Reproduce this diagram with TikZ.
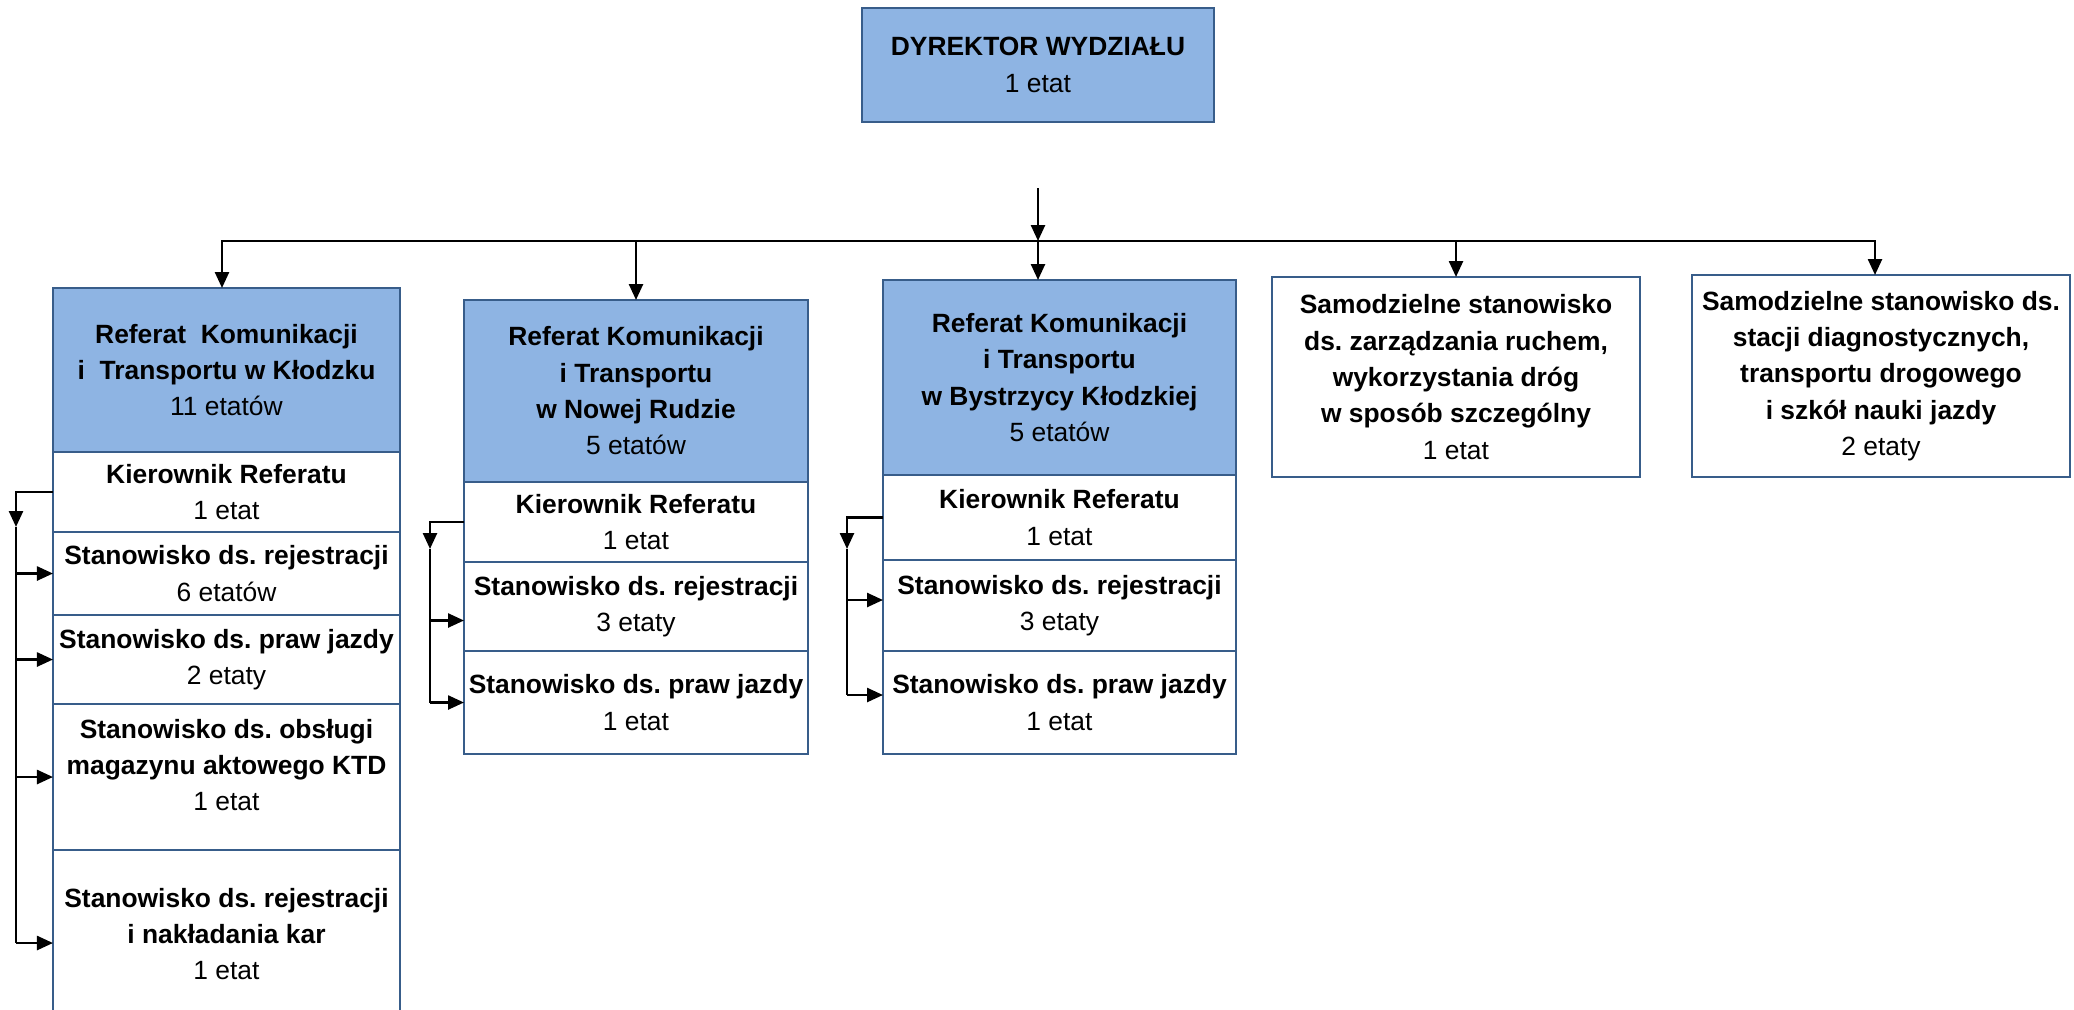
\documentclass[tikz,border=0pt]{standalone}
\usepackage{fontspec}
\setmainfont{Liberation Sans}
\frenchspacing
\usetikzlibrary{positioning,arrows.meta}
\definecolor{boxfill}{RGB}{142,180,227}
\definecolor{boxline}{RGB}{56,93,138}

\begin{document}
\begin{tikzpicture}[x=1bp,y=1bp,>={Triangle[length=16bp,width=14bp]},line width=2.5bp,line join=miter]
	\tikzstyle{every node}=[font=\fontsize{26.5}{36.5}\selectfont]
	\tikzstyle{unit}=[rectangle, draw=boxline, fill=boxfill, line width=2.5bp, align=center, inner sep=0pt, outer sep=0pt]
	\tikzstyle{post}=[unit, fill=white]
	
	\useasboundingbox (0,0) rectangle (2074,-1010);
	
	\node[unit, minimum width=352bp, minimum height=114bp] (dyr) at (1038,-65) {\textbf{DYREKTOR WYDZIAŁU}\\1 etat};
	
	% Kłodzko
	\node[unit, minimum width=347bp, minimum height=164bp] (ref1) at (226.5,-370) {\textbf{Referat~ Komunikacji}\\\textbf{i~ Transportu w Kłodzku}\\11 etatów};
	\node[post, minimum width=347bp, minimum height=80bp, below=0pt of ref1] (kier1) {\textbf{Kierownik Referatu}\\1 etat};
	\node[post, minimum width=347bp, minimum height=83bp, below=0pt of kier1] (rej1) {\textbf{Stanowisko ds. rejestracji}\\6 etatów};
	\node[post, minimum width=347bp, minimum height=89bp, below=0pt of rej1] (praw1) {\textbf{Stanowisko ds. praw jazdy}\\2 etaty};
	\node[post, minimum width=347bp, minimum height=146bp, below=0pt of praw1] (mag1) {};
	\node[align=center] (mag1txt) at ([yshift=12bp]mag1.center) {\textbf{Stanowisko ds. obsługi}\\\textbf{magazynu aktowego KTD}\\1 etat};
	\node[post, minimum width=347bp, minimum height=168bp, below=0pt of mag1] (kar1) {\textbf{Stanowisko ds. rejestracji}\\\textbf{i nakładania kar}\\1 etat};
	
	% Nowa Ruda
	\node[unit, minimum width=344bp, minimum height=182bp] (ref2) at (636,-391) {\textbf{Referat Komunikacji}\\\textbf{i Transportu}\\\textbf{w Nowej Rudzie}\\5 etatów};
	\node[post, minimum width=344bp, minimum height=80bp, below=0pt of ref2] (kier2) {\textbf{Kierownik Referatu}\\1 etat};
	\node[post, minimum width=344bp, minimum height=89bp, below=0pt of kier2] (rej2) {\textbf{Stanowisko ds. rejestracji}\\3 etaty};
	\node[post, minimum width=344bp, minimum height=103bp, below=0pt of rej2] (praw2) {\textbf{Stanowisko ds. praw jazdy}\\1 etat};
	
	% Bystrzyca Kłodzka
	\node[unit, minimum width=353bp, minimum height=195bp] (ref3) at (1059.5,-377.5) {\textbf{Referat Komunikacji}\\\textbf{i Transportu}\\\textbf{w Bystrzycy Kłodzkiej}\\5 etatów};
	\node[post, minimum width=353bp, minimum height=85bp, below=0pt of ref3] (kier3) {\textbf{Kierownik Referatu}\\1 etat};
	\node[post, minimum width=353bp, minimum height=91bp, below=0pt of kier3] (rej3) {\textbf{Stanowisko ds. rejestracji}\\3 etaty};
	\node[post, minimum width=353bp, minimum height=103bp, below=0pt of rej3] (praw3) {\textbf{Stanowisko ds. praw jazdy}\\1 etat};
	
	% samodzielne
	\node[post, minimum width=368bp, minimum height=200bp] (sam1) at (1456,-377) {\textbf{Samodzielne stanowisko}\\\textbf{ds. zarządzania ruchem,}\\\textbf{wykorzystania dróg}\\\textbf{w sposób szczególny}\\1 etat};
	\node[post, minimum width=378bp, minimum height=202bp] (sam2) at (1881,-376) {\textbf{Samodzielne stanowisko ds.}\\\textbf{stacji diagnostycznych,}\\\textbf{transportu drogowego}\\\textbf{i szkół nauki jazdy}\\2 etaty};
	
	% szyna glowna
	\coordinate (start) at ([yshift=-66bp]dyr.south);
	\coordinate (bus) at ([yshift=-119bp]dyr.south);
	\draw[->] (start) -- (bus);
	\draw[->] (bus) -| ([xshift=-4.5bp]ref1.north);
	\draw[->] (bus) -| ([xshift=-6bp]sam2.north);
	\draw[->] (bus -| ref2.north) -- (ref2.north);
	\draw[->] (bus) -- (bus |- ref3.north);
	\draw[->] (bus -| sam1.north) -- (sam1.north);
	
	% Kłodzko - podlegli
	\coordinate (t1) at (16,-527);
	\coordinate (s1in) at ([yshift=-9bp]kar1.west);
	\coordinate (e1) at (t1 |- s1in);
	\draw[->] (kier1.west) -| (t1);
	\draw (t1) -- (e1);
	\draw[->] (t1 |- rej1.west) -- (rej1.west);
	\draw[->] (t1 |- praw1.west) -- (praw1.west);
	\draw[->] (t1 |- mag1.west) -- (mag1.west);
	\draw[->] (e1) -- (s1in);
	
	% Nowa Ruda - podlegli
	\coordinate (t2) at (430,-549);
	\coordinate (r2in) at ([yshift=-14bp]rej2.west);
	\coordinate (e2) at (t2 |- praw2.west);
	\draw[->] (kier2.west) -| (t2);
	\draw (t2) -- (e2);
	\draw[->] (t2 |- r2in) -- (r2in);
	\draw[->] (e2) -- (praw2.west);
	
	% Bystrzyca - podlegli
	\coordinate (t3) at (847,-549);
	\coordinate (r3in) at ([yshift=5.5bp]rej3.west);
	\coordinate (p3in) at ([yshift=7.5bp]praw3.west);
	\coordinate (e3) at (t3 |- p3in);
	\draw[->] (kier3.west) -| (t3);
	\draw (t3) -- (e3);
	\draw[->] (t3 |- r3in) -- (r3in);
	\draw[->] (e3) -- (p3in);
	
\end{tikzpicture}
\end{document}
